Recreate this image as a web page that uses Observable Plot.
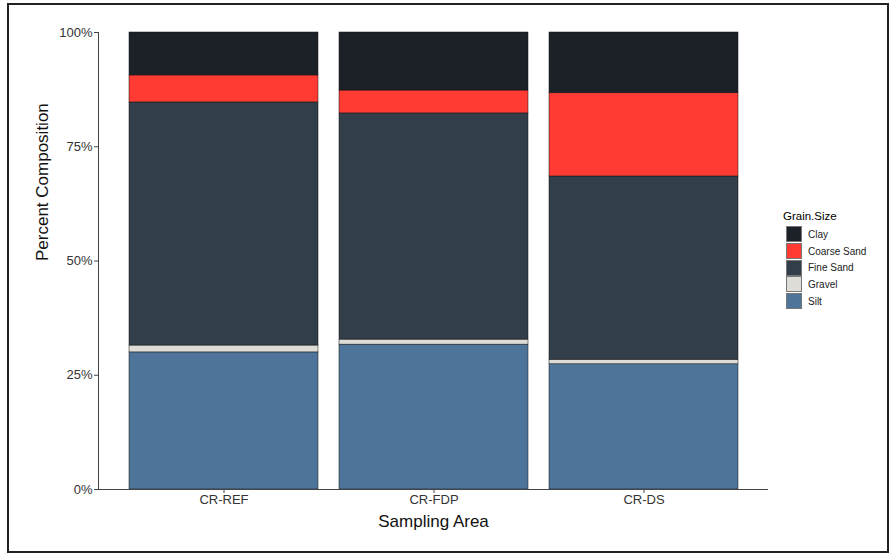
<!DOCTYPE html>
<html>
<head>
<meta charset="utf-8">
<script src="https://cdn.jsdelivr.net/npm/d3@7"></script>
<script src="https://cdn.jsdelivr.net/npm/@observablehq/plot@0.6"></script>
<style>
  html, body { margin: 0; padding: 0; background: #fff; }
  body { width: 889px; height: 554px; position: relative; overflow: hidden; font-family: "Liberation Sans", Arial, sans-serif; }
  #frame { position: absolute; left: 7px; top: 3px; width: 882px; height: 550px; border: 2px solid #222; box-sizing: border-box; pointer-events: none; }
  #chart { position: absolute; left: 0; top: 0; }
  #legend { position: absolute; left: 783px; top: 209px; color: #000; }
  #legend .title { font-size: 11.5px; height: 17px; line-height: 14px; margin-left: 0; }
  #legend .row { display: flex; align-items: center; height: 16.7px; }
  #legend .key { width: 16px; height: 16px; box-sizing: border-box; border: 0.5px solid #777; margin-left: 3px; }
  #legend .lab { font-size: 10px; margin-left: 6px; color: #222; }
</style>
</head>
<body>
<div id="chart"></div>
<div id="legend"></div>
<div id="frame"></div>
<script>
// Data (proportions)
const areas = ["CR-REF", "CR-FDP", "CR-DS"];
const grainSizes = ["Clay", "Coarse Sand", "Fine Sand", "Gravel", "Silt"];
const stackOrder = ["Silt", "Gravel", "Fine Sand", "Coarse Sand", "Clay"];
const clay       = [0.094, 0.127, 0.133];
const coarseSand = [0.059, 0.050, 0.182];
const fineSand   = [0.532, 0.495, 0.401];
const gravel     = [0.015, 0.011, 0.010];
const silt       = [0.300, 0.317, 0.274];
const colors = ["#1c2128", "#ff3b33", "#323e4a", "#dddcd7", "#4e7499"];
const yTicks = [0, 0.25, 0.5, 0.75, 1];

const series = {"Clay": clay, "Coarse Sand": coarseSand, "Fine Sand": fineSand, "Gravel": gravel, "Silt": silt};
const rows = [];
stackOrder.forEach(g => areas.forEach((a, i) => rows.push({area: a, grain: g, value: series[g][i]})));

const chart = Plot.plot({
  width: 775,
  height: 540,
  marginLeft: 98,
  marginRight: 7,
  marginTop: 32,
  marginBottom: 51,
  style: {fontFamily: "Liberation Sans, Arial, sans-serif", background: "transparent"},
  x: {domain: areas, paddingInner: 0.1, paddingOuter: 0.145, align: 0.5, label: null},
  y: {domain: [0, 1], label: null},
  color: {domain: grainSizes, range: colors},
  marks: [
    Plot.barY(rows, Plot.stackY({
      x: "area", y: "value", fill: "grain", order: stackOrder,
      stroke: "#111", strokeWidth: 0.5
    })),
    Plot.ruleY([0], {stroke: "#444", strokeWidth: 1}),
    Plot.frame({anchor: "left", stroke: "#444", strokeWidth: 1}),
    Plot.axisY({ticks: yTicks, tickFormat: d3.format(".0%"), tickSize: 4, tickPadding: 2,
      fontSize: 13, fill: "#333", stroke: "#444", label: null}),
    Plot.axisX({tickSize: 4, tickPadding: 1, fontSize: 13, fill: "#333", stroke: "#444", label: null}),
    Plot.text(["Sampling Area"], {frameAnchor: "bottom", lineAnchor: "middle", dy: 32, fontSize: 17, fill: "#111"}),
    Plot.text(["Percent Composition"], {frameAnchor: "left", lineAnchor: "middle", dx: -56, rotate: -90, fontSize: 17, fill: "#111"})
  ]
});
document.getElementById("chart").appendChild(chart);

// Legend built from the same arrays
const legend = document.getElementById("legend");
const t = document.createElement("div");
t.className = "title";
t.textContent = "Grain.Size";
legend.appendChild(t);
grainSizes.forEach((g, i) => {
  const r = document.createElement("div");
  r.className = "row";
  const k = document.createElement("div");
  k.className = "key";
  k.style.background = colors[i];
  const l = document.createElement("span");
  l.className = "lab";
  l.textContent = g;
  r.appendChild(k); r.appendChild(l);
  legend.appendChild(r);
});
</script>
</body>
</html>
